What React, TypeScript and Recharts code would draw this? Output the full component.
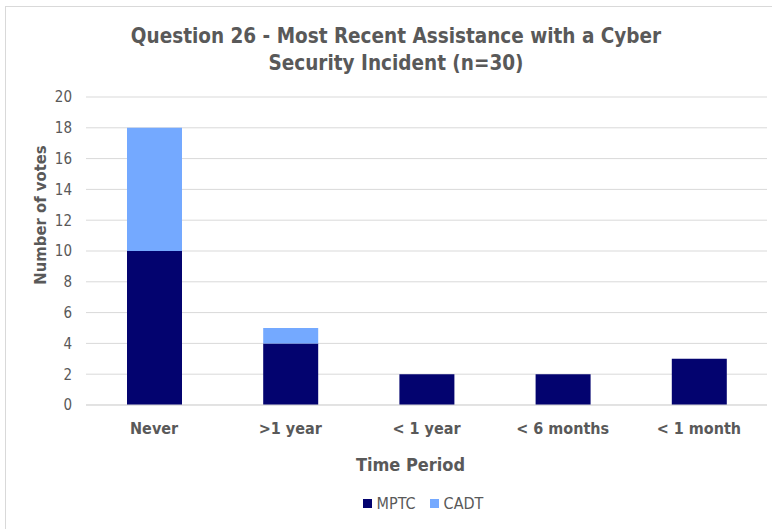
import React from "react";
import { BarChart, Bar, XAxis, YAxis, CartesianGrid, Label } from "recharts";

const categories = ["Never", ">1 year", "< 1 year", "< 6 months", "< 1 month"];
const mptcVotes = [10, 4, 2, 2, 3];
const cadtVotes = [8, 1, 0, 0, 0];
const yTicks = [0, 2, 4, 6, 8, 10, 12, 14, 16, 18, 20];

const series = [
  { key: "MPTC", color: "#03036f" },
  { key: "CADT", color: "#74a9ff" },
];

const data = categories.map((period, i) => ({
  period,
  MPTC: mptcVotes[i],
  CADT: cadtVotes[i] || null,
}));

const FONT = "'DejaVu Sans Condensed', Roboto, sans-serif";
const GREY = "#595959";

export default function App() {
  return (
    <div style={{ position: "relative", width: 772, height: 529, fontFamily: FONT }}>
      <style>{"body{margin:0;overflow:hidden}"}</style>
      {/* chart frame */}
      <div
        style={{
          position: "absolute",
          left: 5,
          top: 6,
          width: 800,
          height: 600,
          border: "1px solid #d9d9d9",
          boxSizing: "border-box",
        }}
      />
      <div
        style={{
          position: "absolute",
          left: 0,
          top: 23,
          width: 792,
          textAlign: "center",
          color: GREY,
          fontWeight: "bold",
          fontSize: 20.5,
          lineHeight: "27px",
        }}
      >
        Question 26 - Most Recent Assistance with a Cyber
        <br />
        Security Incident (n=30)
      </div>
      <div style={{ position: "absolute", left: 0, top: 0 }}>
        <BarChart
          width={772}
          height={529}
          data={data}
          margin={{ top: 97, right: 5, left: 56, bottom: 94 }}
        >
          <CartesianGrid vertical={false} stroke="#d9d9d9" />
          <XAxis
            dataKey="period"
            axisLine={{ stroke: "#d9d9d9" }}
            tickLine={false}
            height={30}
            tickMargin={12}
            tick={{ fill: GREY, fontSize: 16, fontWeight: "bold", fontFamily: FONT }}
          >
            <Label
              value="Time Period"
              position="insideBottom"
              offset={-36}
              dx={-16}
              style={{ fill: GREY, fontSize: 18, fontWeight: "bold", fontFamily: FONT }}
            />
          </XAxis>
          <YAxis
            domain={[0, 20]}
            ticks={yTicks}
            width={30}
            axisLine={false}
            tickLine={false}
            tickMargin={8}
            tick={{ fill: GREY, fontSize: 15, fontFamily: FONT }}
          >
            <Label
              value="Number of votes"
              angle={-90}
              position="insideLeft"
              offset={-16}
              dy={-36}
              style={{
                fill: GREY,
                fontSize: 16.5,
                fontWeight: "bold",
                fontFamily: FONT,
                textAnchor: "middle",
              }}
            />
          </YAxis>
          {series.map((s) => (
            <Bar
              key={s.key}
              dataKey={s.key}
              stackId="votes"
              fill={s.color}
              barSize={55}
              isAnimationActive={false}
            />
          ))}
        </BarChart>
      </div>
      <div
        style={{
          position: "absolute",
          left: 0,
          top: 494,
          width: 846,
          display: "flex",
          justifyContent: "center",
          gap: 14,
          color: GREY,
          fontSize: 16,
        }}
      >
        {series.map((s) => (
          <div key={s.key} style={{ display: "flex", alignItems: "center", gap: 5 }}>
            <span style={{ display: "inline-block", width: 9, height: 9, background: s.color }} />
            {s.key}
          </div>
        ))}
      </div>
    </div>
  );
}
